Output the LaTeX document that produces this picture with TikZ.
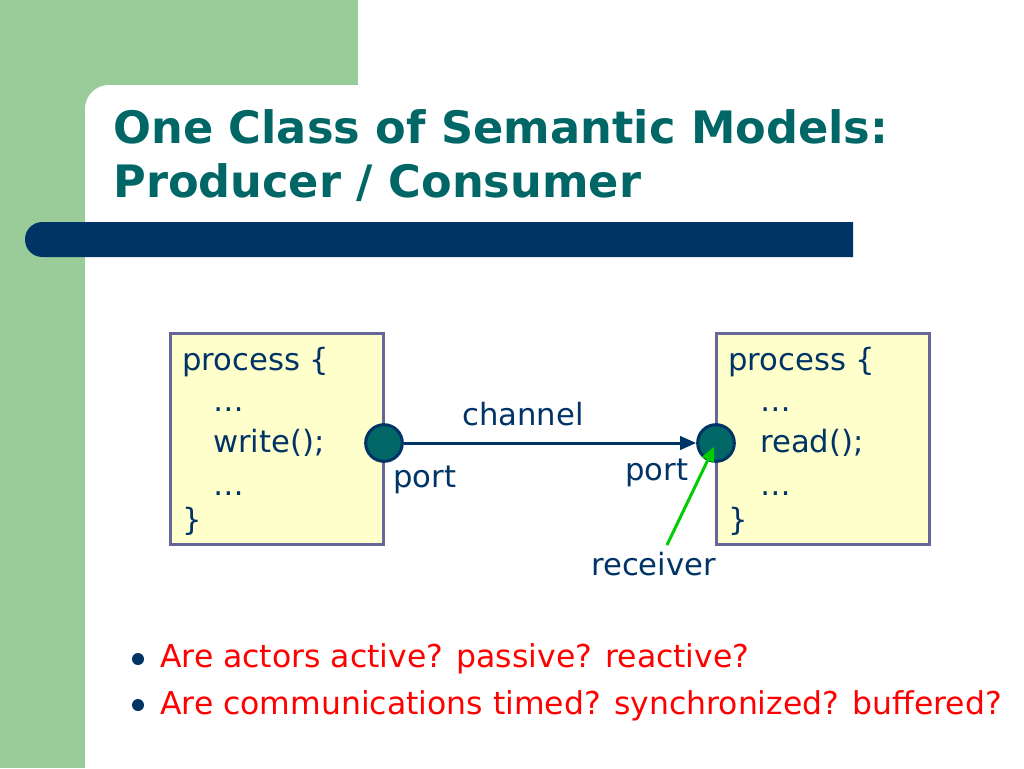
\documentclass[tikz,border=0pt]{standalone}
\usepackage{fontspec}
\setmainfont{DejaVu Sans}
\usetikzlibrary{arrows.meta}
\definecolor{slidegreen}{RGB}{153,204,153}
\definecolor{titleteal}{RGB}{0,102,102}
\definecolor{darknavy}{RGB}{0,51,102}
\definecolor{boxyellow}{RGB}{255,255,204}
\definecolor{boxedge}{RGB}{102,102,153}
\definecolor{rcvgreen}{RGB}{0,204,0}
\definecolor{qred}{RGB}{255,0,0}

\begin{document}
\begin{tikzpicture}[x=0.75pt, y=-0.75pt,
  title/.style={anchor=base west, text=titleteal, inner sep=0pt,
                font=\fontsize{33.5}{38}\selectfont\bfseries},
  code/.style={anchor=base west, text=darknavy, inner sep=0pt,
               font=\fontsize{23}{27}\selectfont},
  procbox/.style={draw=boxedge, fill=boxyellow, line width=2.25pt,
                  minimum width=160pt, minimum height=158pt},
  port/.style={circle, draw=darknavy, fill=titleteal, line width=2.25pt,
               minimum size=27.5pt, inner sep=0pt},
  chan/.style={-{Triangle[length=12pt, width=10pt]}, draw=darknavy, line width=2.25pt},
  rcv/.style={-{Triangle[length=11pt, width=9.5pt]}, draw=rcvgreen, line width=2.25pt},
  qline/.style={anchor=base west, text=qred, inner sep=0pt,
                font=\fontsize{23.6}{28}\selectfont},
  bulletdot/.style={circle, fill=darknavy, minimum size=9pt, inner sep=0pt}]
  \useasboundingbox (0,0) rectangle (1024,768);
  % Background
  \fill[slidegreen] (0,0) rectangle (358,120);
  \fill[slidegreen] (0,0) rectangle (120,768);
  \fill[white] (85,768) [rounded corners=18pt]-- (85,85) [sharp corners]-- (1024,85)
    -- (1024,768) -- cycle;
  \fill[darknavy] (853,222) [rounded corners=13pt]-- (25,222) -- (25,257)
    [sharp corners]-- (853,257) -- cycle;
  % Title
  \node[title] (t1) at (113,143) {One Class of Semantic Models:};
  \node[title] (t2) at (113,197) {Producer / Consumer};
  % Processes
  \node[procbox] (lproc) at (277,439) {};
  \node[procbox] (rproc) at (823,439) {};
  \node[code] (l1) at (182,370) {process \{};
  \node[code] (l2) at (213,411) {…};
  \node[code] (l3) at (213,452) {write();};
  \node[code] (l4) at (213,495) {…};
  \node[code] (l5) at (182,530) {\}};
  \node[code] (r1) at (728,370) {process \{};
  \node[code] (r2) at (760,411) {…};
  \node[code] (r3) at (760,452) {read();};
  \node[code] (r4) at (760,495) {…};
  \node[code] (r5) at (728,530) {\}};
  % Ports and channel
  \node[port] (lport) at (384,443) {};
  \node[port] (rport) at (716,443) {};
  \draw[chan] (lport) -- (rport);
  \node[code] (chlabel) at (462,425) {channel};
  \node[code] (lplabel) at (393,487) {port};
  \node[code] (rplabel) at (625,480) {port};
  \node[code] (rcvlabel) at (591,575) {receiver};
  \coordinate (rcvtail) at (667,545);
  \draw[rcv, shorten >=3pt] (rcvtail) -- (rport.center);
  % Questions
  \node[bulletdot] (b1) at (138,659) {};
  \node[bulletdot] (b2) at (138,705) {};
  \node[qline] (q1) at (160,667) {Are actors active? passive? reactive?};
  \node[qline] (q2) at (160,714) {Are communications timed? synchronized? buffered?};
\end{tikzpicture}
\end{document}
